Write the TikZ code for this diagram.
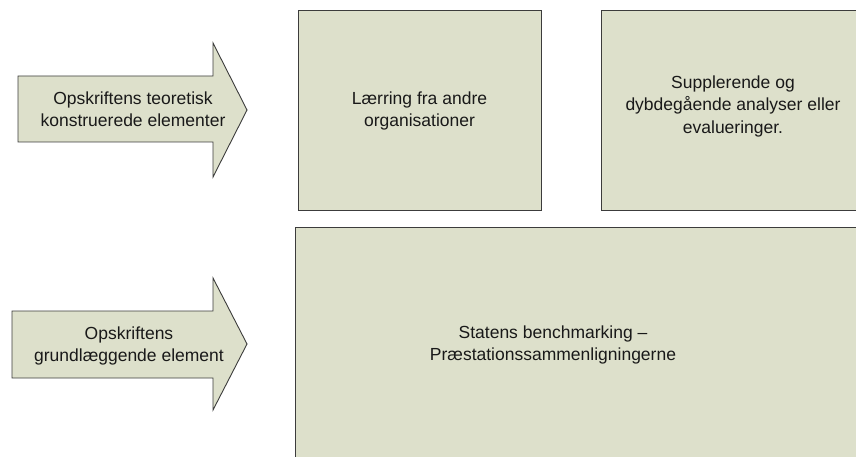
\documentclass[tikz,border=0pt]{standalone}
\usepackage{fontspec}
\setmainfont{Liberation Sans}
\usetikzlibrary{arrows.meta}

\definecolor{boxfill}{HTML}{DDE0CB}
\definecolor{boxline}{HTML}{3C3C3C}

\tikzset{
	panel/.style={draw=boxline, fill=boxfill, line width=0.9pt},
	label/.style={align=center, font=\fontsize{17.5}{22.5}\selectfont, text=black!90}
}

\begin{document}
\begin{tikzpicture}[x=1pt, y=-1pt]
			\useasboundingbox (0,0) rectangle (856,457);
			\clip (0,0) rectangle (856,457);
			% arrows on the left
			\draw [panel] (18,76) -- (213,76) -- (213,43) -- (247,110) -- (213,177) -- (213,142) -- (18,142) -- cycle;
			\draw [panel] (12,311) -- (213,311) -- (213,278) -- (247,344) -- (213,410) -- (213,378) -- (12,378) -- cycle;
			\node [label] (theory) at (133,109) {Opskriftens teoretisk\\konstruerede elementer};
			\node [label] (basic) at (129,346) {Opskriftens\\grundlæggende element};
			% boxes
			\draw [panel] (298,10) rectangle (541,210);
			\draw [panel] (601,10) rectangle (866,210);
			\draw [panel] (295,227) rectangle (880,470);
			\node [label] (learning) at (419.5,111) {Lærring fra andre\\organisationer};
			\node [label] (analyses) at (733,106) {Supplerende og\\dybdegående analyser eller\\evalueringer.};
			\node [label] (bench) at (553,345) {Statens benchmarking –\\Præstationssammenligningerne};
	\end{tikzpicture}
\end{document}
